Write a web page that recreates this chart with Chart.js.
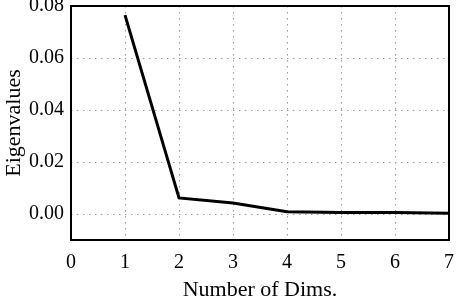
<!DOCTYPE html>
<html>
<head>
<meta charset="utf-8">
<script src="https://cdn.jsdelivr.net/npm/chart.js@4"></script>
<style>
	body { margin: 0; background: #fff; }
	#wrap { width: 459px; height: 298px; }
</style>
</head>
<body>
<div id="wrap"><canvas id="chart" width="459" height="298"></canvas></div>
<script>
const dims = [1, 2, 3, 4, 5, 6, 7];
const eigenvalues = [0.0765, 0.0062, 0.0042, 0.0009, 0.0006, 0.0006, 0.0003];
const xTicks = [0, 1, 2, 3, 4, 5, 6, 7];
const yTicks = [0.00, 0.02, 0.04, 0.06, 0.08];

const serif = "'Liberation Serif', 'DejaVu Serif', serif";

// black frame round the plot area
const frame = {
	id: 'frame',
	afterDraw(chart) {
		const a = chart.chartArea;
		const ctx = chart.ctx;
		ctx.save();
		ctx.strokeStyle = '#000';
		ctx.lineWidth = 2;
		ctx.strokeRect(a.left, a.top, a.right - a.left, a.bottom - a.top);
		ctx.restore();
	}
};

function gridColor(ctx, ends) {
	const v = ctx.tick ? ctx.tick.value : null;
	if (ends.includes(v)) return 'rgba(0,0,0,0)';
	return '#999999';
}

new Chart(document.getElementById("chart"), {
	type: 'line',
	data: {
		datasets: [{
			data: dims.map((d, i) => ({x: d, y: eigenvalues[i]})),
			borderColor: '#000',
			borderWidth: 3,
			pointRadius: 0,
			tension: 0,
			fill: false,
		}]
	},
	options: {
		responsive: false,
		animation: false,
		layout: { padding: { left: 0, top: 6, right: 10, bottom: 0 } },
		plugins: { legend: { display: false }, tooltip: { enabled: false } },
		scales: {
			x: {
				type: 'linear',
				min: 0,
				max: 7,
				afterBuildTicks: s => { s.ticks = xTicks.map(v => ({value: v})); },
				afterFit: s => { s.height = 58; s.paddingLeft = 0; s.paddingRight = 0; },
				grid: { drawTicks: false, color: c => gridColor(c, [0, 7]) },
				border: { display: false, dash: [1.5, 4.5] },
				ticks: { color: '#000', padding: 11, maxRotation: 0, font: { family: serif, size: 20 } },
				title: { display: true, text: 'Number of Dims.', color: '#000', padding: { top: 0, bottom: -3 }, font: { family: serif, size: 22, lineHeight: 1 } }
			},
			y: {
				min: -0.01,
				max: 0.08,
				afterBuildTicks: s => { s.ticks = yTicks.map(v => ({value: v})); },
				afterFit: s => { s.width = 71; s.paddingTop = 0; s.paddingBottom = 0; },
				grid: { drawTicks: false, color: c => gridColor(c, [0.08]) },
				border: { display: false, dash: [1.5, 4.5] },
				ticks: { color: '#000', padding: 7, font: { family: serif, size: 20 }, callback: v => v.toFixed(2) },
				title: { display: true, text: 'Eigenvalues', color: '#000', padding: { top: 1, bottom: 0 }, font: { family: serif, size: 22 } }
			}
		}
	},
	plugins: [frame]
});
</script>
</body>
</html>
